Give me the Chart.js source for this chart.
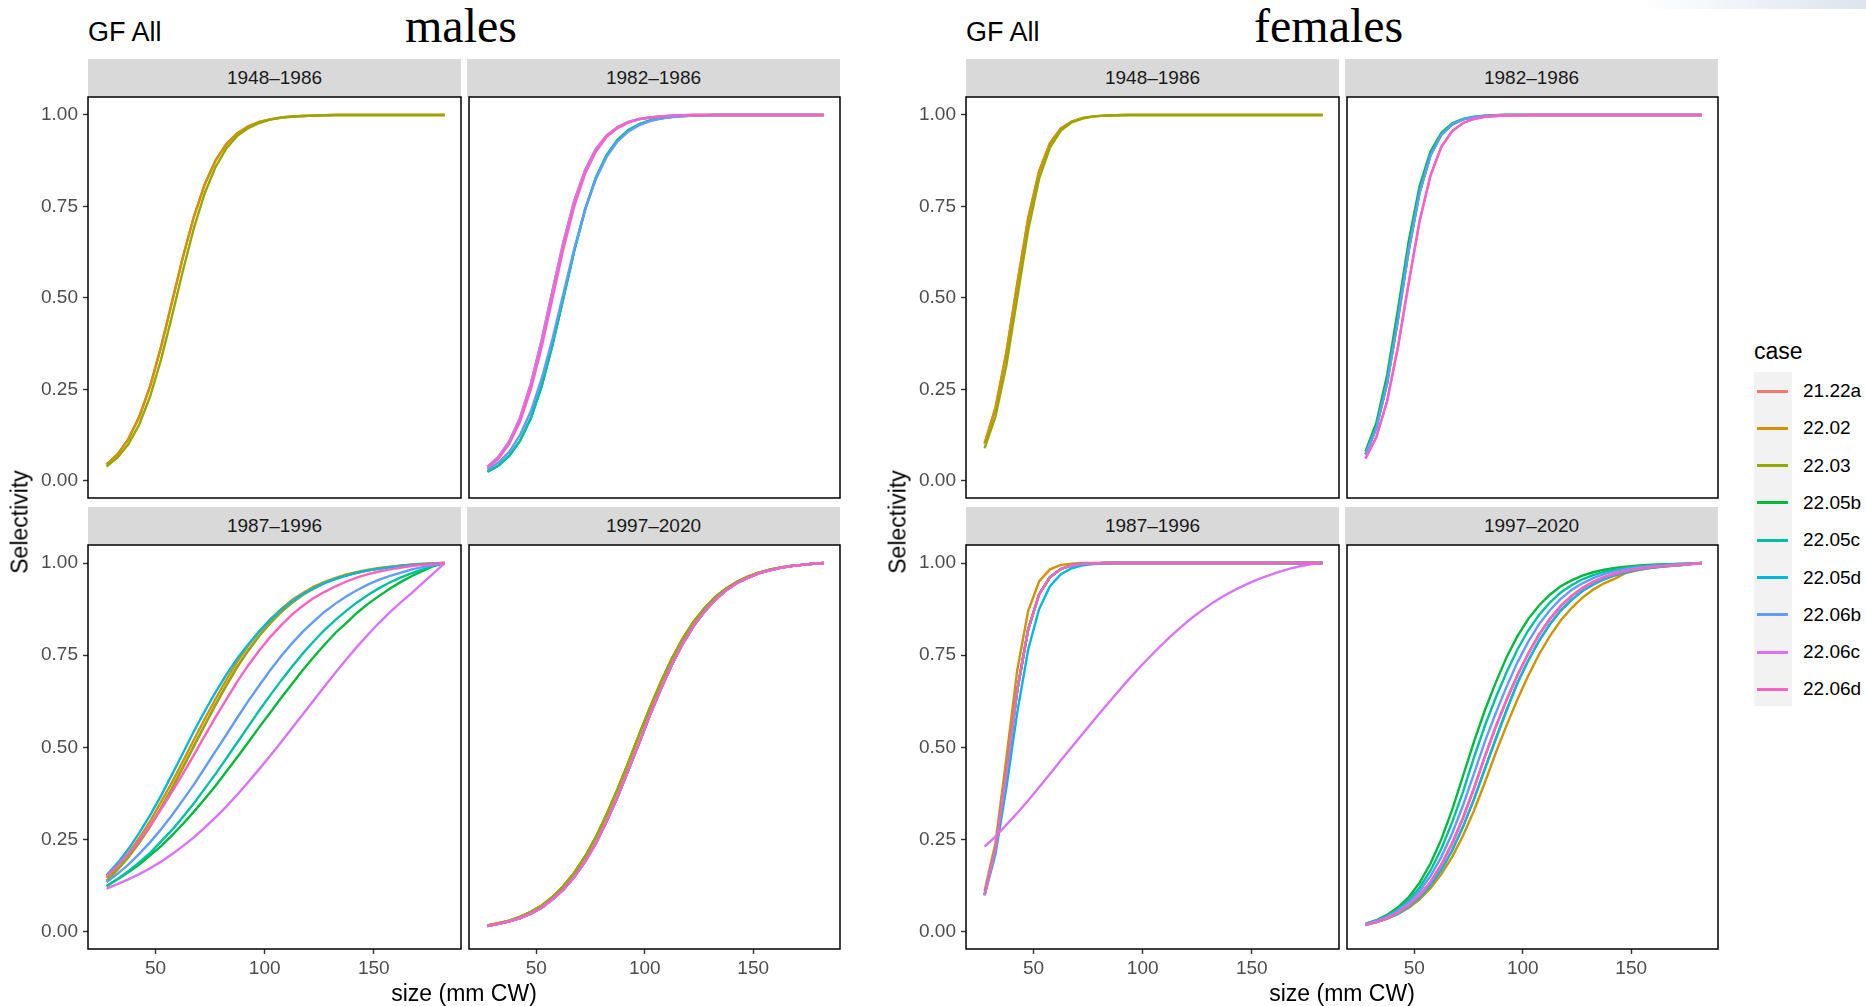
<!DOCTYPE html>
<html>
<head>
<meta charset="utf-8">
<script src="https://cdn.jsdelivr.net/npm/chart.js@4.4.1/dist/chart.umd.min.js"></script>
<style>
  html, body { margin: 0; padding: 0; background: #fff; }
  #root { position: relative; width: 1866px; height: 1006px; overflow: hidden; font-family: "Liberation Sans", Arial, Helvetica, sans-serif; }
  .abs { position: absolute; white-space: nowrap; }
  .strip { position: absolute; background: #d9d9d9; color: #1a1a1a; font-size: 19px; text-align: center; }
  .ttl { position: absolute; font-family: "Liberation Serif", "Times New Roman", serif; font-size: 48px; line-height: 48px; color: #000; }
  .gf { position: absolute; font-size: 27px; line-height: 27px; color: #000; }
  .axt { position: absolute; font-size: 23px; line-height: 23px; color: #000; white-space: nowrap; }
  canvas { position: absolute; }
</style>
</head>
<body>
<div id="root"></div>
<script>
/* ── dati: selettivita per classe di taglia (mm CW) ── */
const sizeBins = [27.5, 32.5, 37.5, 42.5, 47.5, 52.5, 57.5, 62.5, 67.5, 72.5, 77.5, 82.5, 87.5, 92.5, 97.5, 102.5,
  107.5, 112.5, 117.5, 122.5, 127.5, 132.5, 137.5, 142.5, 147.5, 152.5, 157.5, 162.5, 167.5, 172.5, 177.5, 182.5];
const cases = ['21.22a', '22.02', '22.03', '22.05b', '22.05c', '22.05d', '22.06b', '22.06c', '22.06d'];
const caseColors = ['#F8766D', '#D39200', '#93AA00', '#00BA38', '#00C19F', '#00B9E3', '#619CFF', '#DB72FB', '#FF61C3'];
const panelTitles = ['1948–1986', '1982–1986', '1987–1996', '1997–2020'];
const xTicks = [50, 100, 150];
const yTicks = [0, 0.25, 0.5, 0.75, 1];

// males 1948-1986
const m4886_a = [.045,.072,.114,.175,.259,.366,.488,.611,.721,.810,.876,.921,.950,.969,.981,.988,.993,.996,.997,.998,.999,1,1,1,1,1,1,1,1,1,1,1];
const m4886_b = [.039,.063,.100,.154,.231,.332,.450,.574,.690,.786,.858,.909,.943,.964,.978,.987,.992,.995,.997,.998,.999,1,1,1,1,1,1,1,1,1,1,1];
// males 1982-1986
const m8286_pink = [.036,.060,.100,.161,.250,.366,.500,.634,.750,.839,.900,.940,.964,.979,.988,.993,.996,.998,.999,1,1,1,1,1,1,1,1,1,1,1,1,1];
const m8286_cyan = [.038,.065,.107,.172,.265,.385,.520,.652,.765,.849,.907,.944,.967,.981,.989,.993,.996,.998,.999,1,1,1,1,1,1,1,1,1,1,1,1,1];
const m8286_blue = [.031,.050,.079,.125,.190,.279,.389,.512,.634,.741,.825,.886,.928,.955,.972,.983,.990,.994,.996,.998,.999,1,1,1,1,1,1,1,1,1,1,1];
const m8286_green = [.025,.041,.068,.109,.171,.259,.372,.500,.628,.741,.829,.891,.932,.959,.975,.985,.991,.995,.997,.998,.999,1,1,1,1,1,1,1,1,1,1,1];
// males 1987-1996
const m8796_cyan = [.153,.186,.224,.268,.316,.369,.426,.484,.543,.598,.650,.698,.742,.780,.815,.846,.873,.896,.916,.932,.946,.957,.966,.974,.980,.985,.989,.992,.995,.997,.999,1];
const m8796_orange = [.146,.177,.213,.254,.300,.352,.405,.462,.520,.577,.632,.684,.733,.776,.814,.847,.875,.900,.919,.936,.949,.960,.969,.976,.982,.987,.990,.993,.996,.998,.999,1];
const m8796_olive = [.138,.168,.202,.242,.286,.336,.389,.445,.503,.560,.616,.669,.719,.763,.803,.837,.867,.892,.914,.931,.946,.957,.967,.974,.980,.985,.989,.993,.995,.997,.999,1];
const m8796_pink = [.150,.179,.211,.247,.288,.332,.379,.428,.479,.531,.582,.631,.679,.723,.763,.799,.831,.860,.884,.905,.922,.937,.950,.961,.970,.977,.983,.988,.992,.995,.998,1];
const m8796_blue = [.134,.157,.182,.211,.243,.278,.316,.357,.399,.444,.490,.535,.581,.626,.668,.709,.747,.782,.814,.842,.868,.890,.910,.927,.942,.955,.965,.974,.983,.989,.995,1];
const m8796_teal = [.123,.142,.164,.188,.214,.245,.276,.311,.348,.388,.428,.471,.514,.557,.600,.641,.681,.719,.755,.788,.819,.846,.871,.894,.914,.932,.948,.961,.973,.983,.993,1];
const m8796_green = [.124,.142,.161,.182,.207,.232,.261,.292,.325,.360,.396,.435,.474,.514,.555,.594,.634,.672,.710,.745,.779,.811,.838,.866,.890,.911,.931,.949,.965,.979,.992,1];
const m8796_purple = [.117,.129,.142,.156,.172,.190,.210,.232,.256,.282,.310,.340,.372,.406,.441,.477,.514,.552,.590,.628,.666,.703,.739,.774,.807,.838,.867,.894,.919,.946,.973,1];
// males 1997-2020
const m9720_a = [.017,.023,.030,.040,.054,.071,.094,.124,.160,.204,.257,.319,.387,.460,.536,.609,.678,.741,.795,.841,.877,.908,.931,.949,.963,.974,.982,.988,.992,.995,.998,1];
const m9720_b = [.015,.021,.028,.037,.049,.065,.088,.114,.148,.190,.240,.300,.366,.439,.513,.589,.659,.724,.781,.829,.868,.900,.926,.946,.960,.972,.980,.987,.992,.995,.998,1];

// females 1948-1986
const f4886_a = [.102,.199,.350,.539,.717,.846,.923,.963,.982,.992,.996,.998,.999,1,1,1,1,1,1,1,1,1,1,1,1,1,1,1,1,1,1,1];
const f4886_b = [.089,.175,.315,.500,.685,.825,.911,.957,.980,.990,.996,.998,.999,1,1,1,1,1,1,1,1,1,1,1,1,1,1,1,1,1,1,1];
// females 1982-1986
const f8286_green = [.080,.158,.289,.469,.657,.806,.900,.951,.977,.989,.995,.998,.999,1,1,1,1,1,1,1,1,1,1,1,1,1,1,1,1,1,1,1];
const f8286_mid = [.072,.144,.267,.442,.632,.789,.890,.946,.974,.988,.994,.997,.999,1,1,1,1,1,1,1,1,1,1,1,1,1,1,1,1,1,1,1];
const f8286_pink = [.061,.119,.218,.366,.543,.711,.835,.913,.956,.978,.989,.995,.997,.999,.999,1,1,1,1,1,1,1,1,1,1,1,1,1,1,1,1,1];
// females 1987-1996
const f8796_orange = [.110,.240,.470,.710,.870,.950,.983,.995,.998,1,1,1,1,1,1,1,1,1,1,1,1,1,1,1,1,1,1,1,1,1,1,1];
const f8796_mid = [.100,.225,.430,.655,.820,.915,.962,.984,.994,.998,.999,1,1,1,1,1,1,1,1,1,1,1,1,1,1,1,1,1,1,1,1,1];
const f8796_cyan = [.098,.210,.390,.595,.765,.875,.937,.970,.986,.994,.997,.999,1,1,1,1,1,1,1,1,1,1,1,1,1,1,1,1,1,1,1,1];
const f8796_purple = [.231,.258,.290,.322,.356,.392,.428,.465,.501,.537,.573,.608,.643,.677,.710,.741,.771,.800,.826,.851,.873,.894,.912,.928,.942,.955,.966,.976,.985,.992,.997,1];
// females 1997-2020
const f9720_green = [.021,.031,.046,.066,.094,.133,.185,.251,.331,.423,.515,.600,.675,.744,.801,.848,.885,.914,.937,.953,.966,.975,.982,.987,.990,.993,.995,.996,.997,.998,.999,1];
const f9720_teal = [.021,.030,.043,.061,.086,.120,.166,.225,.297,.380,.472,.558,.634,.703,.765,.817,.859,.893,.920,.940,.956,.967,.976,.982,.987,.990,.993,.995,.996,.997,.998,1];
const f9720_blue = [.020,.029,.040,.057,.080,.110,.151,.203,.267,.343,.428,.515,.592,.664,.730,.786,.834,.872,.903,.927,.945,.959,.970,.978,.984,.988,.991,.993,.995,.997,.998,1];
const f9720_pink = [.019,.026,.037,.052,.072,.099,.135,.182,.240,.309,.388,.474,.555,.628,.695,.754,.806,.848,.883,.911,.932,.949,.962,.971,.979,.984,.988,.991,.993,.995,.997,1];
const f9720_olive = [.018,.026,.036,.049,.068,.093,.126,.168,.221,.285,.359,.441,.522,.600,.674,.735,.789,.834,.871,.900,.924,.942,.956,.967,.975,.981,.986,.989,.992,.994,.997,1];
const f9720_orange = [.019,.026,.035,.048,.065,.088,.118,.156,.203,.261,.328,.404,.484,.559,.629,.694,.752,.802,.844,.878,.906,.928,.945,.958,.973,.980,.986,.991,.994,.996,.998,1];

/* quale curva per ogni case, per pannello */
const malePanels = [
  { '21.22a': m4886_a, '22.02': m4886_a, '22.03': m4886_b },
  { '22.05b': m8286_green, '22.05c': m8286_green, '22.05d': m8286_cyan, '22.06b': m8286_blue, '22.06c': m8286_cyan, '22.06d': m8286_pink },
  { '21.22a': m8796_olive, '22.02': m8796_orange, '22.03': m8796_olive, '22.05b': m8796_green, '22.05c': m8796_teal,
    '22.05d': m8796_cyan, '22.06b': m8796_blue, '22.06c': m8796_purple, '22.06d': m8796_pink },
  { '21.22a': m9720_a, '22.02': m9720_a, '22.03': m9720_a, '22.05b': m9720_b, '22.05c': m9720_b,
    '22.05d': m9720_b, '22.06b': m9720_b, '22.06c': m9720_b, '22.06d': m9720_b }
];
const femalePanels = [
  { '21.22a': f4886_a, '22.02': f4886_a, '22.03': f4886_b },
  { '22.05b': f8286_green, '22.05c': f8286_mid, '22.05d': f8286_mid, '22.06b': f8286_mid, '22.06c': f8286_pink, '22.06d': f8286_pink },
  { '21.22a': f8796_mid, '22.02': f8796_orange, '22.03': f8796_mid, '22.05b': f8796_mid, '22.05c': f8796_mid,
    '22.05d': f8796_cyan, '22.06b': f8796_mid, '22.06c': f8796_purple, '22.06d': f8796_mid },
  { '21.22a': f9720_pink, '22.02': f9720_orange, '22.03': f9720_olive, '22.05b': f9720_green, '22.05c': f9720_teal,
    '22.05d': f9720_olive, '22.06b': f9720_blue, '22.06c': f9720_pink, '22.06d': f9720_pink }
];

const FONT = '"Liberation Sans", Arial, Helvetica, sans-serif';
const root = document.getElementById('root');

function addDiv(cls, txt, css) {
  const d = document.createElement('div');
  d.className = cls;
  d.textContent = txt;
  Object.assign(d.style, css);
  root.appendChild(d);
  return d;
}

// bordo nero attorno al pannello (sopra le curve, come ggplot)
const panelBox = {
  id: 'panelBox',
  afterDraw(chart) {
    const a = chart.chartArea, ctx = chart.ctx;
    ctx.save();
    ctx.strokeStyle = '#000';
    ctx.lineWidth = 1.5;
    ctx.strokeRect(a.left, a.top, a.right - a.left, a.bottom - a.top);
    ctx.restore();
  }
};

function makePanel(px, py, pw, ph, mapping, showX, showY) {
  const axW = showY ? 80 : 2, axH = showX ? 44 : 2;
  const cv = document.createElement('canvas');
  const w = pw + axW + 2, h = ph + 2 + axH;
  cv.width = w; cv.height = h;
  cv.style.left = (px - axW) + 'px';
  cv.style.top = (py - 2) + 'px';
  cv.style.width = w + 'px';
  cv.style.height = h + 'px';
  root.appendChild(cv);

  const datasets = [];
  cases.forEach((c, i) => {
    const vals = mapping[c];
    if (!vals) return;
    datasets.push({
      label: c,
      data: sizeBins.map((x, j) => ({ x: x, y: vals[j] })),
      borderColor: caseColors[i], backgroundColor: caseColors[i],
      borderWidth: 2.4, pointRadius: 0, tension: 0, fill: false,
      order: cases.length - i
    });
  });

  const tickGrid = { drawOnChartArea: false, drawTicks: true, tickLength: 5, tickColor: '#333', tickWidth: 1.4 };
  new Chart(cv, {
    type: 'line',
    data: { datasets },
    options: {
      responsive: false, animation: false, events: [],
      layout: { padding: { top: 2, right: 2, left: showY ? 0 : 2, bottom: showX ? 0 : 2 } },
      plugins: { legend: { display: false }, tooltip: { enabled: false } },
      scales: {
        x: {
          type: 'linear', min: 19, max: 190, display: showX,
          afterBuildTicks: s => { s.ticks = xTicks.map(v => ({ value: v })); },
          afterFit: s => { s.height = axH; s.paddingLeft = 0; s.paddingRight = 0; },
          grid: tickGrid, border: { display: false },
          ticks: { color: '#4d4d4d', font: { family: FONT, size: 19 }, padding: 3, maxRotation: 0, autoSkip: false }
        },
        y: {
          type: 'linear', min: -0.047, max: 1.049, display: showY,
          afterBuildTicks: s => { s.ticks = yTicks.map(v => ({ value: v })); },
          afterFit: s => { s.width = axW; s.paddingTop = 0; s.paddingBottom = 0; },
          grid: tickGrid, border: { display: false },
          ticks: { color: '#4d4d4d', font: { family: FONT, size: 19 }, padding: 5, autoSkip: false, callback: v => Number(v).toFixed(2) }
        }
      }
    },
    plugins: [panelBox]
  });
}

/* ── layout: due figure (maschi, femmine) con 2x2 pannelli ── */
const colX = [88, 467], rowY = [97, 545], rowH = [403, 404], panelW = 373, stripH = 38;
const figs = [
  { dx: 0, title: 'males', titleX: 405, panels: malePanels },
  { dx: 878, title: 'females', titleX: 1254, panels: femalePanels }
];

figs.forEach(fig => {
  addDiv('gf', 'GF All', { left: (88 + fig.dx) + 'px', top: '19px' });
  addDiv('ttl', fig.title, { left: fig.titleX + 'px', top: '2px' });
  for (let p = 0; p < 4; p++) {
    const r = Math.floor(p / 2), c = p % 2;
    const px = colX[c] + fig.dx, py = rowY[r];
    addDiv('strip', panelTitles[p], {
      left: px + 'px', top: (py - stripH) + 'px', width: panelW + 'px', height: stripH + 'px', lineHeight: stripH + 'px'
    });
    makePanel(px, py, panelW, rowH[r], fig.panels[p], r === 1, c === 0);
  }
  const yl = addDiv('axt', 'Selectivity', { left: (20 + fig.dx) + 'px', top: '522px' });
  yl.style.transform = 'translate(-50%, -50%) rotate(-90deg)';
  const xl = addDiv('axt', 'size (mm CW)', { left: (464 + fig.dx) + 'px', top: '993px' });
  xl.style.transform = 'translate(-50%, -50%)';
});

/* ── legenda ── */
addDiv('axt', 'case', { left: '1754px', top: '340px' });
addDiv('abs', '', { left: '1754px', top: '372px', width: '38px', height: '334px', background: '#f2f2f2' });
cases.forEach((c, i) => {
  const cy = 391 + i * 37.3;
  addDiv('abs', '', { left: '1757px', top: (cy - 1.5) + 'px', width: '31px', height: '3px', background: caseColors[i] });
  addDiv('abs', c, { left: '1803px', top: (cy - 11) + 'px', fontSize: '19px', lineHeight: '22px', color: '#000' });
});

// sfumatura in alto a destra (residuo della slide)
addDiv('abs', '', { left: '1640px', top: '0px', width: '226px', height: '9px',
  background: 'linear-gradient(to right, rgba(222,229,237,0), #dde4ec)' });
</script>
</body>
</html>
